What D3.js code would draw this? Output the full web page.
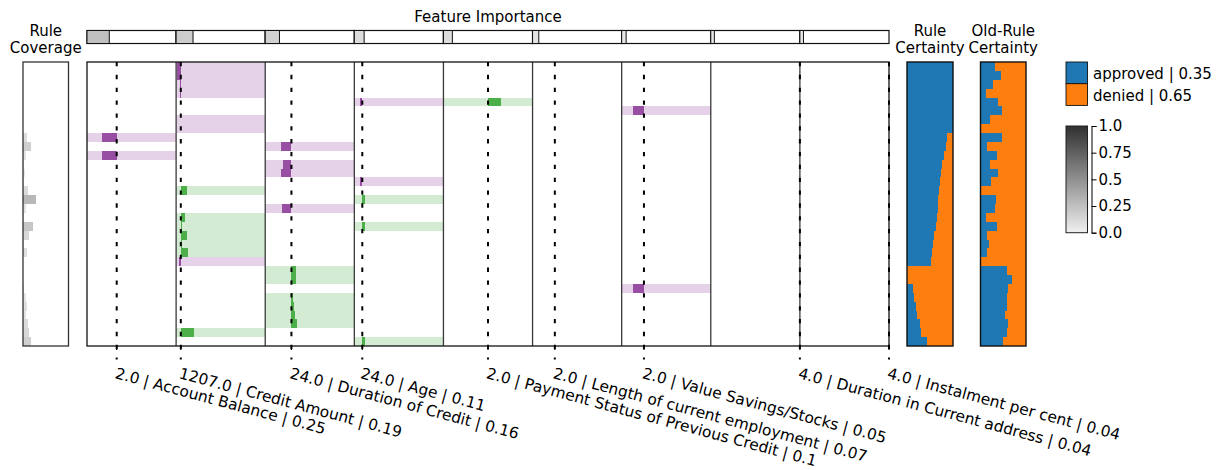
<!DOCTYPE html>
<html>
<head>
<meta charset="utf-8">
<script src="https://cdn.jsdelivr.net/npm/d3@7/dist/d3.min.js"></script>
<style>
  html, body { margin: 0; padding: 0; background: #fff; }
  svg { display: block; font-family: "DejaVu Sans", sans-serif; }
  text { fill: #000; }
  rect.cell { shape-rendering: crispEdges; }
</style>
</head>
<body>
<svg id="chart" width="1221" height="470"></svg>
<script>
// ---- data -------------------------------------------------------------
const featureNames = ["Account Balance", "Credit Amount", "Duration of Credit", "Age",
  "Payment Status of Previous Credit", "Length of current employment",
  "Value Savings/Stocks", "Duration in Current address", "Instalment per cent"];
const featureValues = [2, 1207, 24, 24, 2, 2, 2, 4, 4];
const featureImportance = [0.25, 0.19, 0.16, 0.11, 0.1, 0.07, 0.05, 0.04, 0.04];
const featureMin = [1, 250, 4, 19, 0, 1, 1, 1, 1];
const featureMax = [4, 18424, 72, 75, 4, 5, 5, 4, 4];

const classNames = ["approved", "denied"];
const classPriors = [0.35, 0.65];

// rule conditions: [rule row, feature index, effect, from, to]
const conditions = [
  [0, 1, "deny", 400, 1207], [1, 1, "deny", 400, 1207],
  [2, 1, "deny", 950, 1207], [3, 1, "deny", 950, 1207],
  [4, 3, "deny", 22.8, 24], [4, 4, "approve", 2, 2.6],
  [5, 6, "deny", 1.5, 2],
  [6, 1, "deny", 1207, 1207], [7, 1, "deny", 1207, 1207],
  [8, 0, "deny", 1.5, 2],
  [9, 2, "deny", 16, 24],
  [10, 0, "deny", 1.5, 2],
  [11, 2, "deny", 17.5, 24], [12, 2, "deny", 16, 24],
  [13, 3, "deny", 22.8, 24],
  [14, 1, "approve", 1207, 2400],
  [15, 3, "approve", 24, 25.7],
  [16, 2, "deny", 17, 24],
  [17, 1, "approve", 1207, 2000],
  [18, 1, "approve", 1207, 1400], [18, 3, "approve", 24, 25.7],
  [19, 1, "approve", 1207, 2400],
  [20, 1, "approve", 1207, 1400],
  [21, 1, "approve", 1207, 2650],
  [22, 1, "deny", 900, 1207],
  [23, 2, "approve", 24, 27.3], [24, 2, "approve", 24, 27.3],
  [25, 6, "deny", 1.5, 2],
  [26, 2, "approve", 24, 25], [27, 2, "approve", 24, 26.3],
  [28, 2, "approve", 24, 27], [29, 2, "approve", 24, 28.5],
  [30, 1, "approve", 1207, 3850],
  [31, 3, "approve", 24, 25.7]
];

const ruleCoverage = [0, 0, 0, 0, 0, 0, 0, 0,
  0.095, 0.17, 0.066, 0.03, 0.04, 0.02, 0.11, 0.29,
  0.066, 0.03, 0.22, 0.13, 0.02, 0.09, 0.01, 0.01,
  0.01, 0.03, 0.06, 0.09, 0.07, 0.11, 0.125, 0.17];

// share of "approved" per rule
const ruleCertainty = [1, 1, 1, 1, 1, 1, 1, 1,
  0.88, 0.84, 0.81, 0.76, 0.74, 0.72, 0.70, 0.68,
  0.67, 0.65, 0.62, 0.59, 0.57, 0.54, 0.52, 0,
  0, 0.14, 0.16, 0.19, 0.22, 0.28, 0.30, 0.44];
const oldRuleCertainty = [0.31, 0.46, 0.28, 0.12, 0.39, 0.48, 0.21, 0,
  0.48, 0.15, 0.37, 0.21, 0.39, 0.24, 0, 0.35,
  0.31, 0.12, 0.37, 0.15, 0.18, 0.15, 0, 0.59,
  0.70, 0.61, 0.59, 0.59, 0.54, 0.61, 0.59, 0.50];

const colorbarTicks = [0, 0.25, 0.5, 0.75, 1];
const colorbarTickLabels = ["0.0", "0.25", "0.5", "0.75", "1.0"];

// ---- layout -----------------------------------------------------------
const svg = d3.select("#chart");
const FONT = 15;
const yTop = 62, yBottom = 346;
const classColor = d3.scaleOrdinal().domain(classNames).range(["#1f77b4", "#ff7f0e"]);
const effectMark = { deny: "#984ea3", approve: "#4daf4a" };
const effectBand = { deny: "#e5d2e8", approve: "#d2ebd2" };
const grey = d3.scaleLinear().domain([0, 1]).range(["#f0f0f0", "#303030"]);

const y = d3.scaleBand().domain(d3.range(ruleCertainty.length)).range([yTop, yBottom]);
const col = d3.scaleBand().domain(d3.range(featureNames.length)).range([87, 889]);
const fx = featureNames.map((_, i) =>
  d3.scaleLinear().domain([featureMin[i], featureMax[i]])
    .range([col(i), col(i) + col.bandwidth()]));

// ---- rule coverage ------------------------------------------------------
const cov = { x0: 23, x1: 68.5 };
const covX = d3.scaleLinear().domain([0, 1]).range([cov.x0, cov.x1]);
svg.append("g").selectAll("rect").data(ruleCoverage).join("rect").attr("class", "cell")
  .attr("x", cov.x0).attr("y", (d, i) => y(i))
  .attr("width", d => covX(d) - cov.x0).attr("height", y.bandwidth())
  .attr("fill", d => grey(d));
svg.append("rect").attr("x", cov.x0).attr("y", yTop)
  .attr("width", cov.x1 - cov.x0).attr("height", yBottom - yTop)
  .attr("fill", "none").attr("stroke", "#333").attr("stroke-width", 1.3);
svg.append("text").attr("text-anchor", "middle").attr("font-size", FONT)
  .selectAll("tspan").data(["Rule", "Coverage"]).join("tspan")
  .attr("x", (cov.x0 + cov.x1) / 2).attr("y", (d, i) => 36 + i * 16.5).text(d => d);

// ---- feature importance strip -------------------------------------------
const imp = { y0: 30.5, y1: 43.5 };
const impG = svg.append("g");
impG.selectAll("rect.bg").data(featureNames).join("rect").attr("class", "bg")
  .attr("x", (d, i) => col(i)).attr("y", imp.y0)
  .attr("width", col.bandwidth()).attr("height", imp.y1 - imp.y0)
  .attr("fill", "#fff").attr("stroke", "#111").attr("stroke-width", 1.2);
impG.selectAll("rect.val").data(featureImportance).join("rect").attr("class", "val")
  .attr("x", (d, i) => col(i)).attr("y", imp.y0)
  .attr("width", d => d * col.bandwidth()).attr("height", imp.y1 - imp.y0)
  .attr("fill", d => grey(d)).attr("stroke", "#111").attr("stroke-width", 1);
svg.append("text").attr("x", (col.range()[0] + col.range()[1]) / 2).attr("y", 22)
  .attr("text-anchor", "middle").attr("font-size", FONT).text("Feature Importance");

// ---- rule conditions ----------------------------------------------------
const main = svg.append("g");
main.selectAll("rect.band").data(conditions).join("rect").attr("class", "band cell")
  .attr("x", d => fx[d[1]].range()[0]).attr("y", d => y(d[0]))
  .attr("width", d => fx[d[1]].range()[1] - fx[d[1]].range()[0])
  .attr("height", y.bandwidth())
  .attr("fill", d => effectBand[d[2]]);
main.selectAll("rect.mark").data(conditions).join("rect").attr("class", "mark cell")
  .attr("x", d => fx[d[1]](d[3])).attr("y", d => y(d[0]))
  .attr("width", d => fx[d[1]](d[4]) - fx[d[1]](d[3]))
  .attr("height", y.bandwidth())
  .attr("fill", d => effectMark[d[2]]);

// column separators and frame
main.selectAll("line.sep").data(d3.range(1, featureNames.length)).join("line").attr("class", "sep")
  .attr("x1", i => col(i)).attr("x2", i => col(i))
  .attr("y1", yTop).attr("y2", yBottom)
  .attr("stroke", "#3a3a3a").attr("stroke-width", 1.3);
main.append("rect").attr("x", col.range()[0]).attr("y", yTop)
  .attr("width", col.range()[1] - col.range()[0]).attr("height", yBottom - yTop)
  .attr("fill", "none").attr("stroke", "#111").attr("stroke-width", 1.3);

// instance values as dotted lines with tick marks
main.selectAll("line.val").data(featureValues).join("line").attr("class", "val")
  .attr("x1", (d, i) => fx[i](d)).attr("x2", (d, i) => fx[i](d))
  .attr("y1", yTop).attr("y2", 359.5)
  .attr("stroke", "#000").attr("stroke-width", 2)
  .attr("stroke-dasharray", "4.3 8.55");
main.selectAll("line.tick").data(featureValues).join("line").attr("class", "tick")
  .attr("x1", (d, i) => fx[i](d)).attr("x2", (d, i) => fx[i](d))
  .attr("y1", yBottom).attr("y2", yBottom + 4)
  .attr("stroke", "#000").attr("stroke-width", 1.2);

// rotated feature labels
main.selectAll("text.lab").data(featureValues).join("text").attr("class", "lab")
  .attr("transform", (d, i) => `translate(${fx[i](d) - 2.5},378) rotate(15)`)
  .attr("font-size", 15.4)
  .text((d, i) => `${d.toFixed(1)} | ${featureNames[i]} | ${featureImportance[i]}`);

// ---- certainty panels ---------------------------------------------------
function certaintyPanel(values, x0, x1, title) {
  const g = svg.append("g");
  const sx = d3.scaleLinear().domain([0, 1]).range([x0, x1]);
  g.selectAll("rect.a").data(values).join("rect").attr("class", "a cell")
    .attr("x", x0).attr("y", (d, i) => y(i))
    .attr("width", d => sx(d) - x0).attr("height", y.bandwidth())
    .attr("fill", classColor(classNames[0]));
  g.selectAll("rect.b").data(values).join("rect").attr("class", "b cell")
    .attr("x", d => sx(d)).attr("y", (d, i) => y(i))
    .attr("width", d => x1 - sx(d)).attr("height", y.bandwidth())
    .attr("fill", classColor(classNames[1]));
  g.append("rect").attr("x", x0).attr("y", yTop)
    .attr("width", x1 - x0).attr("height", yBottom - yTop)
    .attr("fill", "none").attr("stroke", "#111").attr("stroke-width", 1.4);
  g.append("text").attr("text-anchor", "middle").attr("font-size", FONT)
    .selectAll("tspan").data(title).join("tspan")
    .attr("x", (x0 + x1) / 2).attr("y", (d, i) => 36 + i * 16.5).text(d => d);
}
certaintyPanel(ruleCertainty, 907, 953, ["Rule", "Certainty"]);
certaintyPanel(oldRuleCertainty, 980.5, 1026, ["Old-Rule", "Certainty"]);

// ---- legend -------------------------------------------------------------
const leg = svg.append("g").attr("transform", "translate(1066,62)");
const legItems = leg.selectAll("g").data(classNames).join("g")
  .attr("transform", (d, i) => `translate(0,${i * 21.7})`);
legItems.append("rect").attr("width", 21.5).attr("height", 21.7)
  .attr("fill", d => classColor(d)).attr("stroke", "#111").attr("stroke-width", 0.9);
legItems.append("text").attr("x", 27).attr("y", 17.3).attr("font-size", FONT)
  .text((d, i) => `${d} | ${classPriors[i]}`);

// ---- colour bar ---------------------------------------------------------
const cb = { x: 1066, w: 21.5, y0: 126, y1: 232.7 };
const grad = svg.append("defs").append("linearGradient").attr("id", "greyRamp")
  .attr("x1", 0).attr("y1", 1).attr("x2", 0).attr("y2", 0);
grad.selectAll("stop").data([0, 1]).join("stop")
  .attr("offset", d => d).attr("stop-color", d => grey(d));
svg.append("rect").attr("x", cb.x).attr("y", cb.y0).attr("width", cb.w)
  .attr("height", cb.y1 - cb.y0).attr("fill", "url(#greyRamp)")
  .attr("stroke", "#222").attr("stroke-width", 1);
const cbScale = d3.scaleLinear().domain([0, 1]).range([cb.y1, cb.y0]);
const cbAxis = svg.append("g").attr("transform", `translate(${cb.x + cb.w + 4},0)`)
  .call(d3.axisRight(cbScale).tickValues(colorbarTicks)
    .tickFormat((d, i) => colorbarTickLabels[i]).tickSize(5).tickPadding(2));
cbAxis.selectAll("text").attr("font-size", FONT).attr("font-family", "DejaVu Sans").attr("fill", "#000");
cbAxis.selectAll("path, line").attr("stroke", "#000").attr("stroke-width", 1);
</script>
</body>
</html>
